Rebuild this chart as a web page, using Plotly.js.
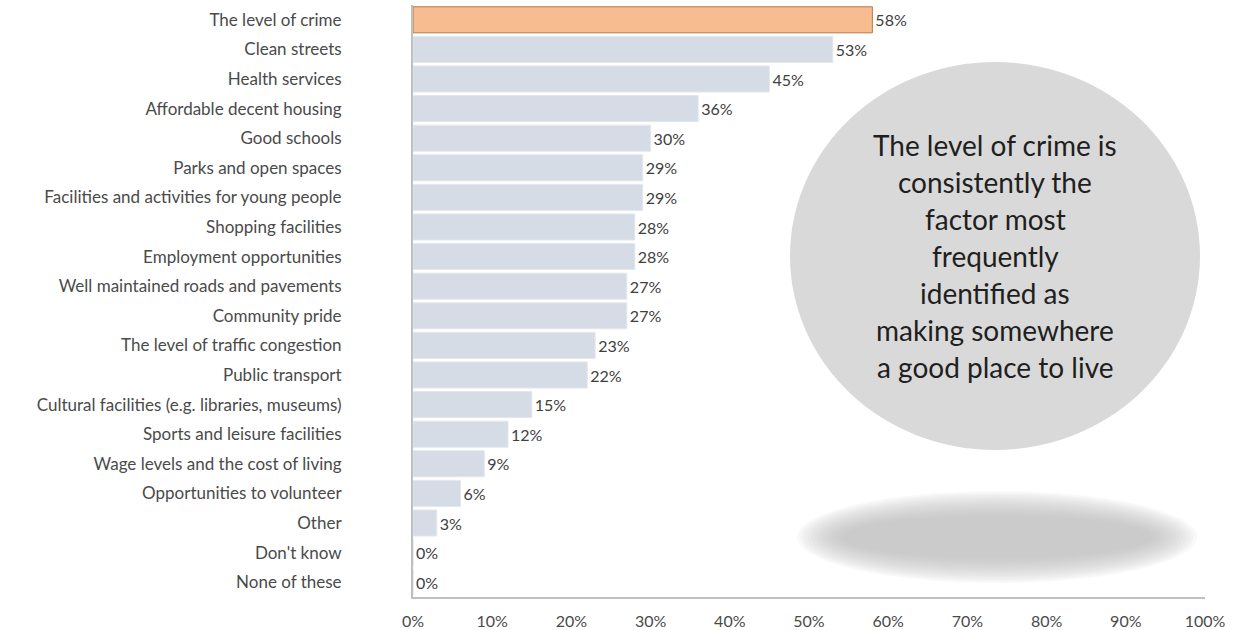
<!DOCTYPE html>
<html>
<head>
<meta charset="utf-8">
<script src="https://cdn.plot.ly/plotly-3.0.1.min.js"></script>
<style>
  html, body { margin: 0; padding: 0; background: #ffffff; }
  #chart { width: 1245px; height: 630px; }
</style>
</head>
<body>
<div id="chart"></div>
<script>
const categories = [
  "The level of crime",
  "Clean streets",
  "Health services",
  "Affordable decent housing",
  "Good schools",
  "Parks and open spaces",
  "Facilities and activities for young people",
  "Shopping facilities",
  "Employment opportunities",
  "Well maintained roads and pavements",
  "Community pride",
  "The level of traffic congestion",
  "Public transport",
  "Cultural facilities (e.g. libraries, museums)",
  "Sports and leisure facilities",
  "Wage levels and the cost of living",
  "Opportunities to volunteer",
  "Other",
  "Don't know",
  "None of these"
];
const values = [58, 53, 45, 36, 30, 29, 29, 28, 28, 27, 27, 23, 22, 15, 12, 9, 6, 3, 0, 0];
const xTickValues = [0, 10, 20, 30, 40, 50, 60, 70, 80, 90, 100];
const xTickLabels = ["0%", "10%", "20%", "30%", "40%", "50%", "60%", "70%", "80%", "90%", "100%"];
const calloutLines = [
  "The level of crime is",
  "consistently the",
  "factor most",
  "frequently",
  "identified as",
  "making somewhere",
  "a good place to live"
];

const FONT = "Lato, 'Open Sans', sans-serif";
const barColors = values.map((v, i) => i === 0 ? "#f7bd90" : "#d6dce5");
const lineColors = values.map((v, i) => i === 0 ? "#b8784a" : "#e3e7ed");

const trace = {
  type: "bar",
  orientation: "h",
  y: categories,
  x: values,
  marker: { color: barColors, line: { color: lineColors, width: 1 } },
  text: values.map(v => v + "%"),
  textposition: "outside",
  cliponaxis: false,
  textfont: { family: FONT, size: 16, color: "#404040" },
  hoverinfo: "skip"
};

const plotTopPx = 5, plotBottomPx = 597;
const plotH = plotBottomPx - plotTopPx;
const firstLinePx = 145, lineStep = 37;
const annotations = calloutLines.map((t, i) => ({
  xref: "paper", yref: "paper",
  x: (995 - 413) / 792,
  y: (plotBottomPx - (firstLinePx + i * lineStep)) / plotH,
  text: t, showarrow: false,
  xanchor: "center", yanchor: "middle",
  font: { family: FONT, size: 28, color: "#1f1f1f" }
}));

// blurred shadow as stacked translucent ellipses
const shapes = [];
const shCx = 997, shCy = 537;
for (let k = 0; k < 14; k++) {
  const rx = 200 - k * 3.5, ry = 46 - k * 1.9;
  shapes.push({
    type: "circle", xref: "paper", yref: "paper", layer: "below",
    x0: (shCx - rx - 413) / 792, x1: (shCx + rx - 413) / 792,
    y0: (plotBottomPx - (shCy + ry)) / plotH, y1: (plotBottomPx - (shCy - ry)) / plotH,
    fillcolor: "#bdbdbd", opacity: 0.09, line: { width: 0 }
  });
}
// circle
shapes.push({
  type: "circle", xref: "paper", yref: "paper", layer: "below",
  x0: (790 - 413) / 792, x1: (1200 - 413) / 792,
  y0: (plotBottomPx - 450) / plotH, y1: (plotBottomPx - 62) / plotH,
  fillcolor: "#d9d9d9", line: { width: 0 }
});

const layout = {
  width: 1245, height: 630,
  margin: { l: 413, r: 40, t: 5, b: 33 },
  paper_bgcolor: "#ffffff",
  plot_bgcolor: "rgba(0,0,0,0)",
  showlegend: false,
  bargap: 0.12,
  font: { family: FONT, size: 17, color: "#404040" },
  xaxis: {
    range: [0, 100],
    tickvals: xTickValues,
    ticktext: xTickLabels,
    showgrid: false, zeroline: false,
    showline: true, linecolor: "#bfbfbf", linewidth: 2,
    ticks: "", ticklabelstandoff: 9,
    tickfont: { family: FONT, size: 16, color: "#4a4a4a" },
    fixedrange: true
  },
  yaxis: {
    autorange: "reversed",
    type: "category",
    showgrid: false, zeroline: false,
    showline: true, linecolor: "#bfbfbf", linewidth: 2,
    ticks: "", ticklabelstandoff: 66,
    tickfont: { family: FONT, size: 17, color: "#4a4a4a" },
    fixedrange: true
  },
  shapes: shapes,
  annotations: annotations
};

Plotly.newPlot("chart", [trace], layout, { displayModeBar: false, staticPlot: true });
</script>
</body>
</html>
